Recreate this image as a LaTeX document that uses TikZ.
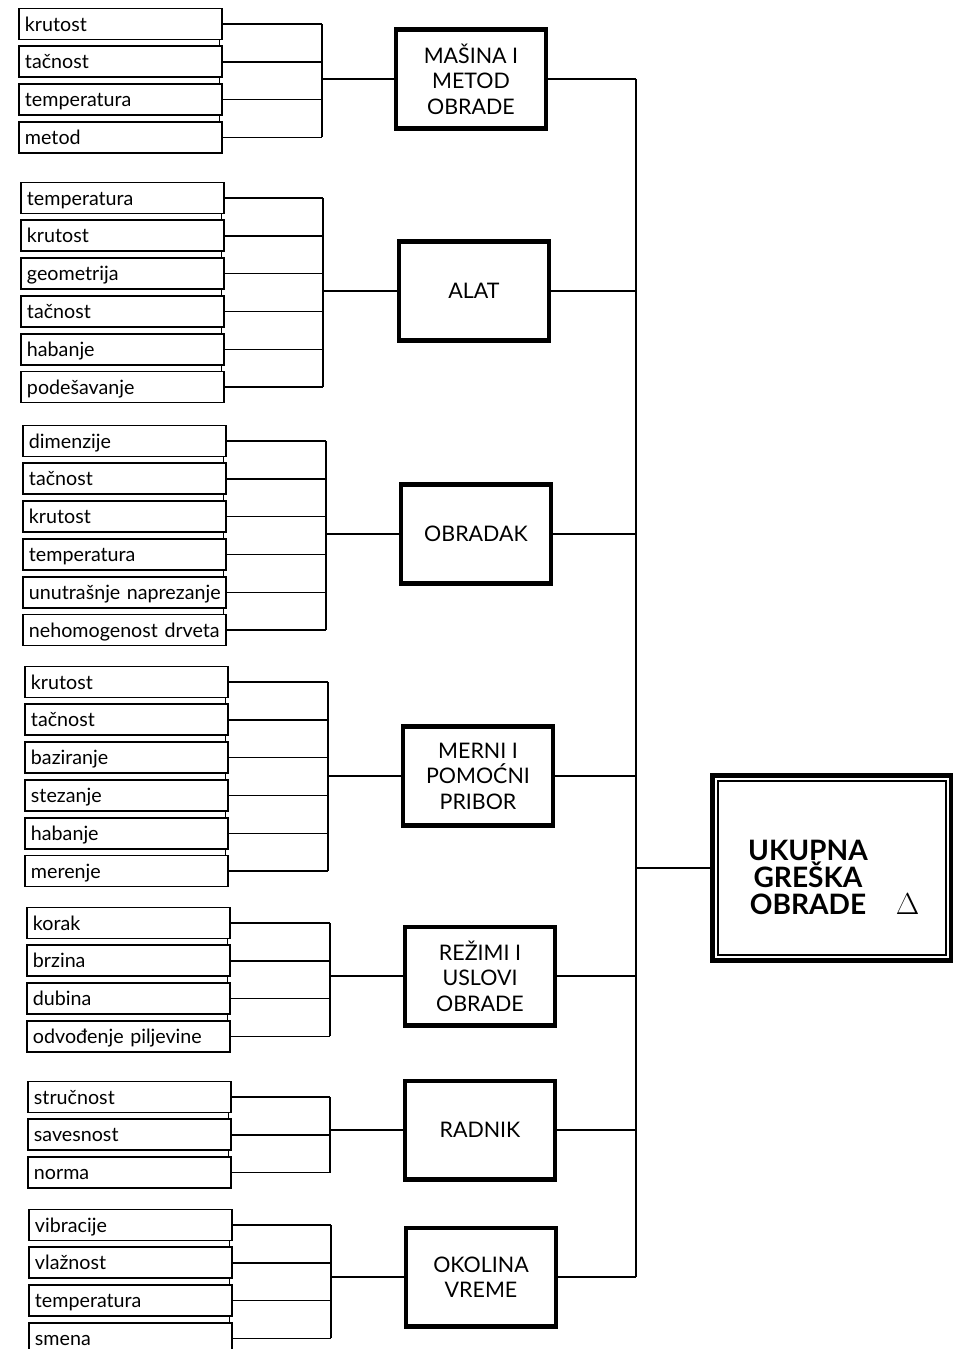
\documentclass[tikz,border=0pt]{standalone}
\usepackage{fontspec}
\setmainfont{Lato}
\usetikzlibrary{calc}
\tikzset{
  leaf/.style={draw,line width=1.1pt,fill=white,text width=3.82cm,inner xsep=0.12cm,inner ysep=0pt,
    minimum height=0.62cm,text height=9pt,text depth=1pt,align=left,anchor=west,font=\fontsize{11.2}{14}\selectfont},
  grp/.style={draw,line width=2.3pt,minimum width=3cm,minimum height=1.98cm,align=center,
    font=\fontsize{12.2}{14.5}\selectfont},
  wire/.style={line width=0.8pt},
}
\begin{document}
\begin{tikzpicture}[x=0.02cm,y=-0.02cm]
\useasboundingbox (0,0) rectangle (953,1349);
% groups of causes
\node[grp] (g1) at (471,79) {MAŠINA I\\METOD\\OBRADE};
\node[grp] (g2) at (474,291) {ALAT};
\node[grp] (g3) at (476,534) {OBRADAK};
\node[grp] (g4) at (478,776) {MERNI I\\POMOĆNI\\PRIBOR};
\node[grp] (g5) at (480,976) {REŽIMI I\\USLOVI\\OBRADE};
\node[grp] (g6) at (480,1130) {RADNIK};
\node[grp] (g7) at (481,1277) {OKOLINA\\VREME};
% total error
\node[draw,line width=2.4pt,minimum width=4.78cm,minimum height=3.7cm,text height=53pt,text depth=0pt,
  font=\bfseries\fontsize{16}{15.5}\selectfont] (tot) at (832,868)
  {\parbox[b]{72pt}{\centering UKUPNA\\GREŠKA\\OBRADE}\hspace{14pt}$\Delta$};
\draw[line width=1.2pt] ($(tot.north west)+(8,8)$) rectangle ($(tot.south east)+(-8,-8)$);
% single causes
\foreach \g/\lx/\ly/\bus/\items in {
    1/18/24/322/{krutost,tačnost,temperatura,metod},
    2/20/198/323/{temperatura,krutost,geometrija,tačnost,habanje,podešavanje},
    3/22/441/326/{dimenzije,tačnost,krutost,temperatura,unutrašnje naprezanje,nehomogenost drveta},
    4/24/682/328/{krutost,tačnost,baziranje,stezanje,habanje,merenje},
    5/26/923/330/{korak,brzina,dubina,odvođenje piljevine},
    6/27/1097/330/{stručnost,savesnost,norma},
    7/28/1225/331/{vibracije,vlažnost,temperatura,smena}}{
  \coordinate (b\g) at (\bus,0);
  \foreach \t [count=\i] in \items {
    \node[leaf] (g\g-\i) at (\lx,{\ly+37.8*(\i-1)}) {\mbox{\t}};
    \draw[wire] (g\g-\i.east) -- (g\g-\i.east -| b\g);
    \ifnum\i>1
      \pgfmathtruncatemacro\j{\i-1}
      \draw[wire] (g\g-\j.east -| b\g) -- (g\g-\i.east -| b\g);
      \draw[wire] ([xshift=-2pt]g\g-\j.south east) -- ([xshift=-2pt]g\g-\i.north east);
    \fi
  }
  \draw[wire] (g\g.west) -- (g\g.west -| b\g);
}
% main line
\coordinate (mb) at (636,0);
\foreach \g in {1,...,7}
  \draw[wire] (g\g.east) -- (g\g.east -| mb);
\draw[wire] (g1.east -| mb) -- (g7.east -| mb);
\draw[wire] (tot.west -| mb) -- (tot.west);
\end{tikzpicture}
\end{document}
